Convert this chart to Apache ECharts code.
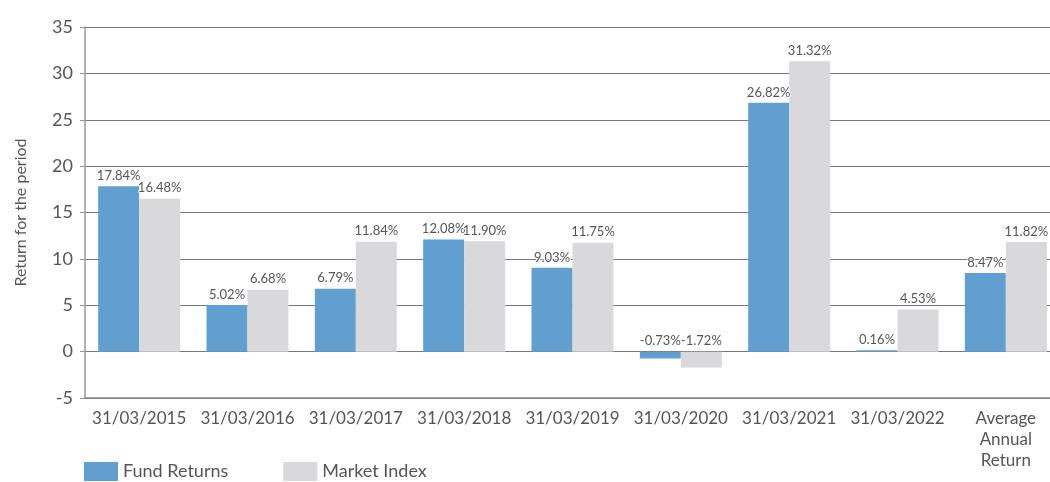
<!DOCTYPE html>
<html>
<head>
<meta charset="utf-8">
<script src="https://cdn.jsdelivr.net/npm/echarts@6/dist/echarts.min.js"></script>
<style>
  html, body { margin: 0; padding: 0; background: #fff; }
  #chart { width: 1050px; height: 482px; }
</style>
</head>
<body>
<div id="chart"></div>
<script>
// categories and values
const categories = ['31/03/2015', '31/03/2016', '31/03/2017', '31/03/2018', '31/03/2019',
  '31/03/2020', '31/03/2021', '31/03/2022', 'Average\nAnnual\nReturn']
const fundReturns = [17.84, 5.02, 6.79, 12.08, 9.03, -0.73, 26.82, 0.16, 8.47]
const marketIndex = [16.48, 6.68, 11.84, 11.90, 11.75, -1.72, 31.32, 4.53, 11.82]
const seriesNames = ['Fund Returns', 'Market Index']

const font = 'Lato, "Open Sans", sans-serif'
const labelStyle = {
  show: true,
  position: 'top',
  distance: 4,
  color: '#555',
  fontSize: 13,
  fontFamily: font,
  textBorderColor: '#fff',
  textBorderWidth: 2,
  formatter: p => p.value.toFixed(2) + '%'
}

const chart = echarts.init(document.getElementById('chart'))
chart.setOption({
  animation: false,
  // plot runs a little past the right edge, as in the original
  grid: { left: 85, right: -10, top: 27, bottom: 84, outerBoundsMode: 'none', containLabel: false },
  legend: {
    data: seriesNames,
    left: 84,
    bottom: 1,
    padding: 0,
    icon: 'rect',
    itemWidth: 34,
    itemHeight: 19,
    itemGap: 55,
    textStyle: { color: '#555', fontSize: 18, fontFamily: font }
  },
  xAxis: {
    type: 'category',
    data: categories,
    axisLine: { onZero: false, lineStyle: { color: '#888', width: 1.5 } },
    axisTick: { show: false },
    axisLabel: {
      color: '#555',
      fontSize: 17,
      fontFamily: font,
      lineHeight: 21,
      margin: 10,
      interval: 0
    }
  },
  yAxis: {
    type: 'value',
    min: -5,
    max: 35,
    interval: 5,
    name: 'Return for the period',
    nameLocation: 'middle',
    nameGap: 56,
    nameTextStyle: { color: '#555', fontSize: 16, fontFamily: font },
    axisLine: { show: true, lineStyle: { color: '#999', width: 1.5 } },
    axisTick: { show: true, length: 5, lineStyle: { color: '#999' } },
    axisLabel: { color: '#555', fontSize: 18, fontFamily: font, margin: 12 },
    splitLine: { lineStyle: { color: '#777', width: 1 } }
  },
  series: [
    {
      name: seriesNames[0],
      type: 'bar',
      data: fundReturns,
      barWidth: 41,
      barGap: 0,
      itemStyle: { color: '#619fd1' },
      label: labelStyle
    },
    {
      name: seriesNames[1],
      type: 'bar',
      data: marketIndex,
      barWidth: 41,
      barGap: 0,
      itemStyle: { color: '#d9d9db' },
      label: labelStyle
    }
  ]
})
</script>
</body>
</html>
